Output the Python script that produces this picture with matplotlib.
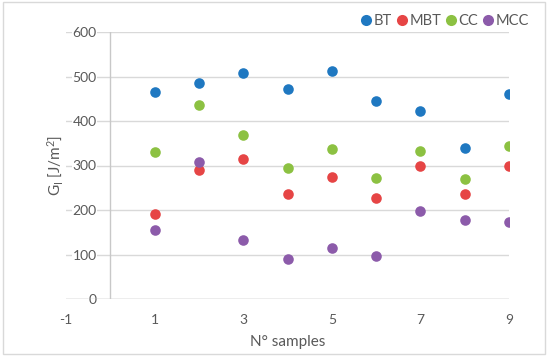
import matplotlib
matplotlib.use("Agg")
import matplotlib.pyplot as plt
from matplotlib.patches import Rectangle
from matplotlib.lines import Line2D

plt.rcParams['font.family'] = ['Lato', 'DejaVu Sans']
plt.rcParams['mathtext.fontset'] = 'custom'
plt.rcParams['mathtext.rm'] = 'Lato'
plt.rcParams['mathtext.it'] = 'Lato:italic'
plt.rcParams['axes.unicode_minus'] = False

samples = [1, 2, 3, 4, 5, 6, 7, 8, 9]
BT = [465, 486, 508, 472, 512, 445, 422, 340, 461]
MBT = [192, 290, 314, 237, 274, 227, 299, 237, 298]
CC = [331, 436, 368, 294, 337, 273, 333, 270, 343]
MCC = [155, 307, 132, 91, 115, 96, 197, 177, 173]
series_names = ['BT', 'MBT', 'CC', 'MCC']
colors = ['#1F78C1', '#E64545', '#8CC142', '#8C5BAA']
xticks = [-1, 1, 3, 5, 7, 9]
yticks = [0, 100, 200, 300, 400, 500, 600]

W, H = 550, 357
fig = plt.figure(figsize=(W / 100, H / 100), dpi=100)
ax = fig.add_axes([66 / W, 1 - 299 / H, (509 - 66) / W, (299 - 32) / H])

for name, vals, c in zip(series_names, [BT, MBT, CC, MCC], colors):
    ax.scatter(samples, vals, s=58, color=c, zorder=3, linewidths=0, label=name)

ax.set_xlim(-1, 9)
ax.set_ylim(0, 600)
ax.set_xticks(xticks)
ax.set_yticks(yticks)
for s in ax.spines.values():
    s.set_visible(False)
ax.grid(axis='y', color='#D9D9D9', lw=1)
ax.set_axisbelow(True)
ax.axvline(0, color='#C8C8C8', lw=1, zorder=1)
ax.axhline(0, color='#C8C8C8', lw=1, zorder=1)

ax.tick_params(axis='y', length=0, pad=-22, labelsize=10, labelcolor='#595959')
ax.tick_params(axis='x', length=0, pad=11, labelsize=10, labelcolor='#595959')
for lab in ax.get_yticklabels():
    lab.set_bbox(dict(facecolor='white', edgecolor='none', pad=0.5))

ax.set_xlabel('N° samples', fontsize=11, color='#595959', labelpad=6)
fig.text(55 / W, 1 - 165 / H, r'G$_\mathrm{I}$ [J/m$^2$]', rotation=90,
         ha='center', va='center', fontsize=11, color='#595959')

handles = [Line2D([], [], ls='none', marker='o', markersize=8, color=c, markeredgewidth=0)
           for c in colors]
fig.legend(handles, series_names, loc='upper right', bbox_to_anchor=(535 / W, 1 - 8 / H),
           ncol=4, frameon=False, fontsize=10.5, handletextpad=0.15, columnspacing=0.35,
           handlelength=0.7, labelcolor='#595959', borderaxespad=0)

fig.patches.append(Rectangle((2.5 / W, 3 / H), 542 / W, 352 / H, transform=fig.transFigure,
                             fill=False, edgecolor='#D9D9D9', lw=1))

fig.savefig('out.png', dpi=100)
